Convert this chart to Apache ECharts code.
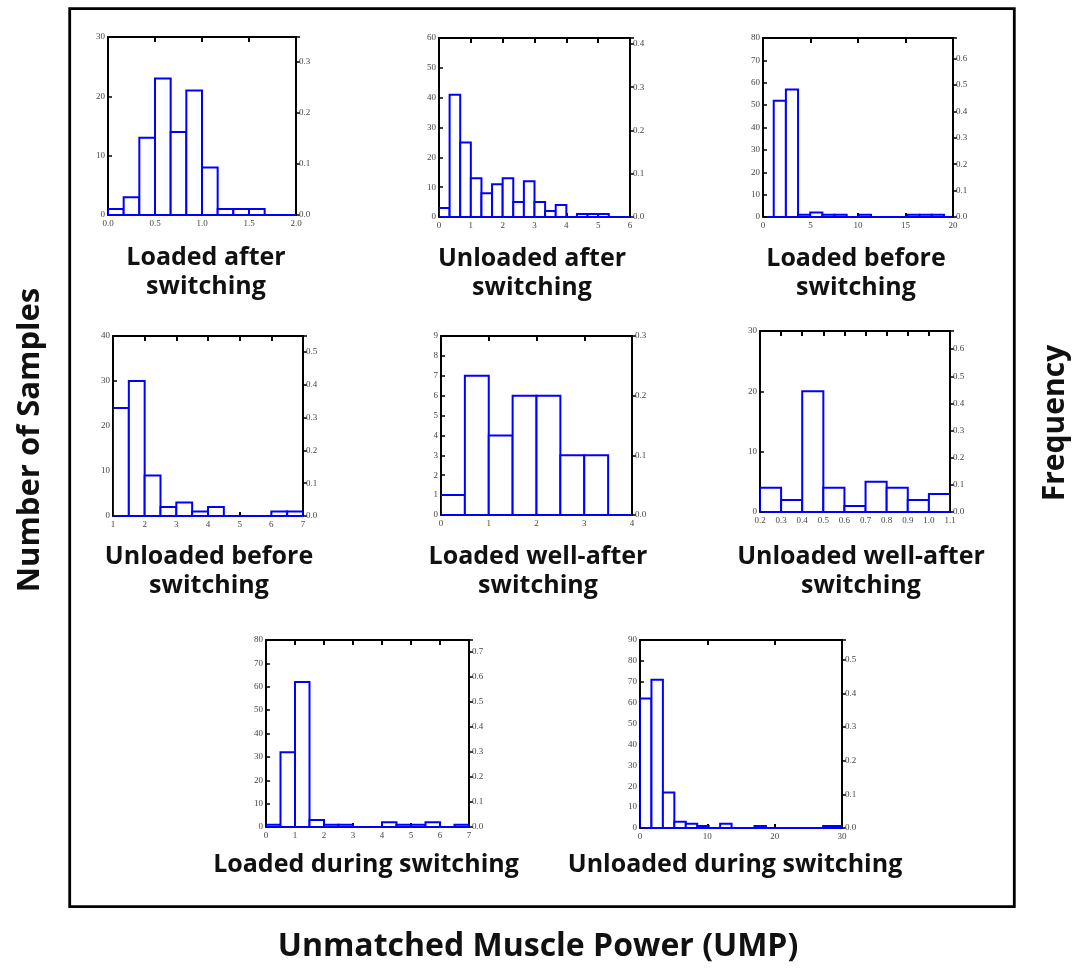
<!DOCTYPE html>
<html>
<head>
<meta charset="utf-8">
<script src="https://cdn.jsdelivr.net/npm/echarts@6/dist/echarts.min.js"></script>
<style>
html,body{margin:0;padding:0;background:#fff;}
#chart{width:1076px;height:968px;}
</style>
</head>
<body>
<div id="chart"></div>
<script>
// ---- DATA ----
const panelTitles = [
  "Loaded after\nswitching",
  "Unloaded after\nswitching",
  "Loaded before\nswitching",
  "Unloaded before\nswitching",
  "Loaded well-after\nswitching",
  "Unloaded well-after\nswitching",
  "Loaded during switching",
  "Unloaded during switching"
];
// histogram bins: first bin start, bin width, counts per bin
const binStart = [0, 0, 1.13, 1, 0, 0.2, 0, 0];
const binWidth = [1/6, 1/3, 1.28, 0.5, 0.5, 0.1, 0.5, 1.7];
const counts1 = [1, 3, 13, 23, 14, 21, 8, 1, 1, 1, 0, 0];
const counts2 = [3, 41, 25, 13, 8, 11, 13, 5, 12, 5, 2, 4, 0, 1, 1, 1, 0, 0];
const counts3 = [52, 57, 1, 2, 1, 1, 0, 1, 0, 0, 0, 1, 1, 1];
const counts4 = [24, 30, 9, 2, 3, 1, 2, 0, 0, 0, 1, 1];
const counts5 = [1, 7, 4, 6, 6, 3, 3, 0];
const counts6 = [4, 2, 20, 4, 1, 5, 4, 2, 3];
const counts7 = [1, 32, 62, 3, 1, 1, 0, 0, 2, 1, 1, 2, 0, 1];
const counts8 = [62, 71, 17, 3, 2, 1, 0, 2, 0, 0, 1, 0, 0, 0, 0, 0, 1, 1];
const allCounts = [counts1, counts2, counts3, counts4, counts5, counts6, counts7, counts8];
// axis scales (tick values)
const xMin = [0, 0, 0, 1, 0, 0.2, 0, 0];
const xMax = [2, 6, 20, 7, 4, 1.1, 7, 30];
const xStep = [0.5, 1, 5, 1, 1, 0.1, 1, 10];
const xDecimals = [1, 0, 0, 0, 0, 1, 0, 0];
const yMax = [30, 60, 80, 40, 9, 30, 80, 90];
const yStep = [10, 10, 10, 10, 1, 10, 10, 10];
const freqStep = 0.1;

// ---- LAYOUT (pixels) ----
const boxes = [
  [108, 37, 188, 178],
  [439, 38, 191, 179],
  [763, 38, 190, 179],
  [113, 336, 190, 180],
  [441, 336, 191, 179],
  [760, 331, 190, 181],
  [266, 640, 203, 187],
  [640, 640, 202, 188]
];
const titlePos = [
  [206, 272], [532, 273], [856, 273],
  [209, 571], [538, 571], [861, 571],
  [366, 865], [735, 865]
];

const BLUE = '#0000ff';
const tickFont = {fontFamily: 'Liberation Serif', fontSize: 9, color: '#444'};
const TITLE_FONT = 'bold 25px "Open Sans"';

const grid = [], xAxis = [], yAxis = [], series = [], graphic = [];

function renderHist(params, api) {
  const x0 = api.value(0), x1 = api.value(1), c = api.value(2);
  const pTop = api.coord([x0, c]);
  const pBot = api.coord([x1, 0]);
  return {
    type: 'rect',
    shape: {x: pTop[0], y: pTop[1], width: pBot[0] - pTop[0], height: pBot[1] - pTop[1]},
    style: {fill: '#fff', stroke: BLUE, lineWidth: 2}
  };
}

for (let i = 0; i < 8; i++) {
  const b = boxes[i];
  grid.push({left: b[0], top: b[1], width: b[2], height: b[3], containLabel: false});
  const dec = xDecimals[i];
  const total = allCounts[i].reduce((a, v) => a + v, 0);
  const fMax = yMax[i] / total;
  // bottom x axis
  xAxis.push({
    type: 'value', gridIndex: i, position: 'bottom',
    min: xMin[i], max: xMax[i], interval: xStep[i],
    axisLine: {show: true, onZero: false, lineStyle: {color: BLUE, width: 2}},
    axisTick: {show: true, inside: true, length: 4, lineStyle: {color: '#000', width: 2}},
    axisLabel: Object.assign({margin: 4, formatter: v => Number(v).toFixed(dec)}, tickFont),
    splitLine: {show: false}
  });
  // top mirror x axis
  xAxis.push({
    type: 'value', gridIndex: i, position: 'top',
    min: xMin[i], max: xMax[i], interval: xStep[i],
    axisLine: {show: true, onZero: false, lineStyle: {color: '#000', width: 2}},
    axisTick: {show: true, inside: true, length: 5, lineStyle: {color: '#000', width: 2}},
    axisLabel: {show: false},
    splitLine: {show: false}
  });
  // left count axis
  yAxis.push({
    type: 'value', gridIndex: i, position: 'left',
    min: 0, max: yMax[i], interval: yStep[i],
    axisLine: {show: true, onZero: false, lineStyle: {color: '#000', width: 2}},
    axisTick: {show: true, inside: true, length: 4, lineStyle: {color: '#000', width: 1.5}},
    axisLabel: Object.assign({margin: 3}, tickFont),
    splitLine: {show: false}
  });
  // right frequency axis
  yAxis.push({
    type: 'value', gridIndex: i, position: 'right',
    min: 0, max: fMax, interval: freqStep,
    axisLine: {show: true, onZero: false, lineStyle: {color: '#000', width: 2}},
    axisTick: {show: true, inside: false, length: 4, lineStyle: {color: '#000', width: 1.5}},
    axisLabel: Object.assign({
      margin: 3,
      formatter: v => {
        const k = v / freqStep;
        return Math.abs(k - Math.round(k)) < 1e-6 ? v.toFixed(1) : '';
      }
    }, tickFont),
    splitLine: {show: false}
  });
  const data = allCounts[i].map((c, j) => [
    binStart[i] + j * binWidth[i],
    binStart[i] + (j + 1) * binWidth[i],
    c
  ]);
  series.push({
    type: 'custom', xAxisIndex: 2 * i, yAxisIndex: 2 * i,
    renderItem: renderHist, clip: true, z: 1,
    encode: {x: [0, 1], y: 2},
    data: data
  });
  graphic.push({
    type: 'text', x: titlePos[i][0], y: titlePos[i][1],
    style: {
      text: panelTitles[i], fill: '#111',
      font: TITLE_FONT, textAlign: 'center', textVerticalAlign: 'middle',
      lineHeight: 29
    }
  });
}

// outer frame
graphic.push({
  type: 'rect', shape: {x: 69.7, y: 8.7, width: 944.6, height: 898},
  style: {fill: 'none', stroke: '#000', lineWidth: 2.8}, z: 0
});
// axis titles
graphic.push({
  type: 'text', x: 30, y: 440, rotation: Math.PI / 2,
  style: {text: 'Number of Samples', fill: '#111', font: 'bold 31px "Open Sans"',
          textAlign: 'center', textVerticalAlign: 'middle'}
});
graphic.push({
  type: 'text', x: 1055, y: 423, rotation: Math.PI / 2,
  style: {text: 'Frequency', fill: '#111', font: 'bold 30px "Open Sans"',
          textAlign: 'center', textVerticalAlign: 'middle'}
});
graphic.push({
  type: 'text', x: 538, y: 947,
  style: {text: 'Unmatched Muscle Power (UMP)', fill: '#111', font: 'bold 32px "Open Sans"',
          textAlign: 'center', textVerticalAlign: 'middle'}
});

const chart = echarts.init(document.getElementById('chart'), null, {renderer: 'canvas'});
chart.setOption({
  animation: false,
  backgroundColor: '#fff',
  grid, xAxis, yAxis, series, graphic
});
</script>
</body>
</html>
